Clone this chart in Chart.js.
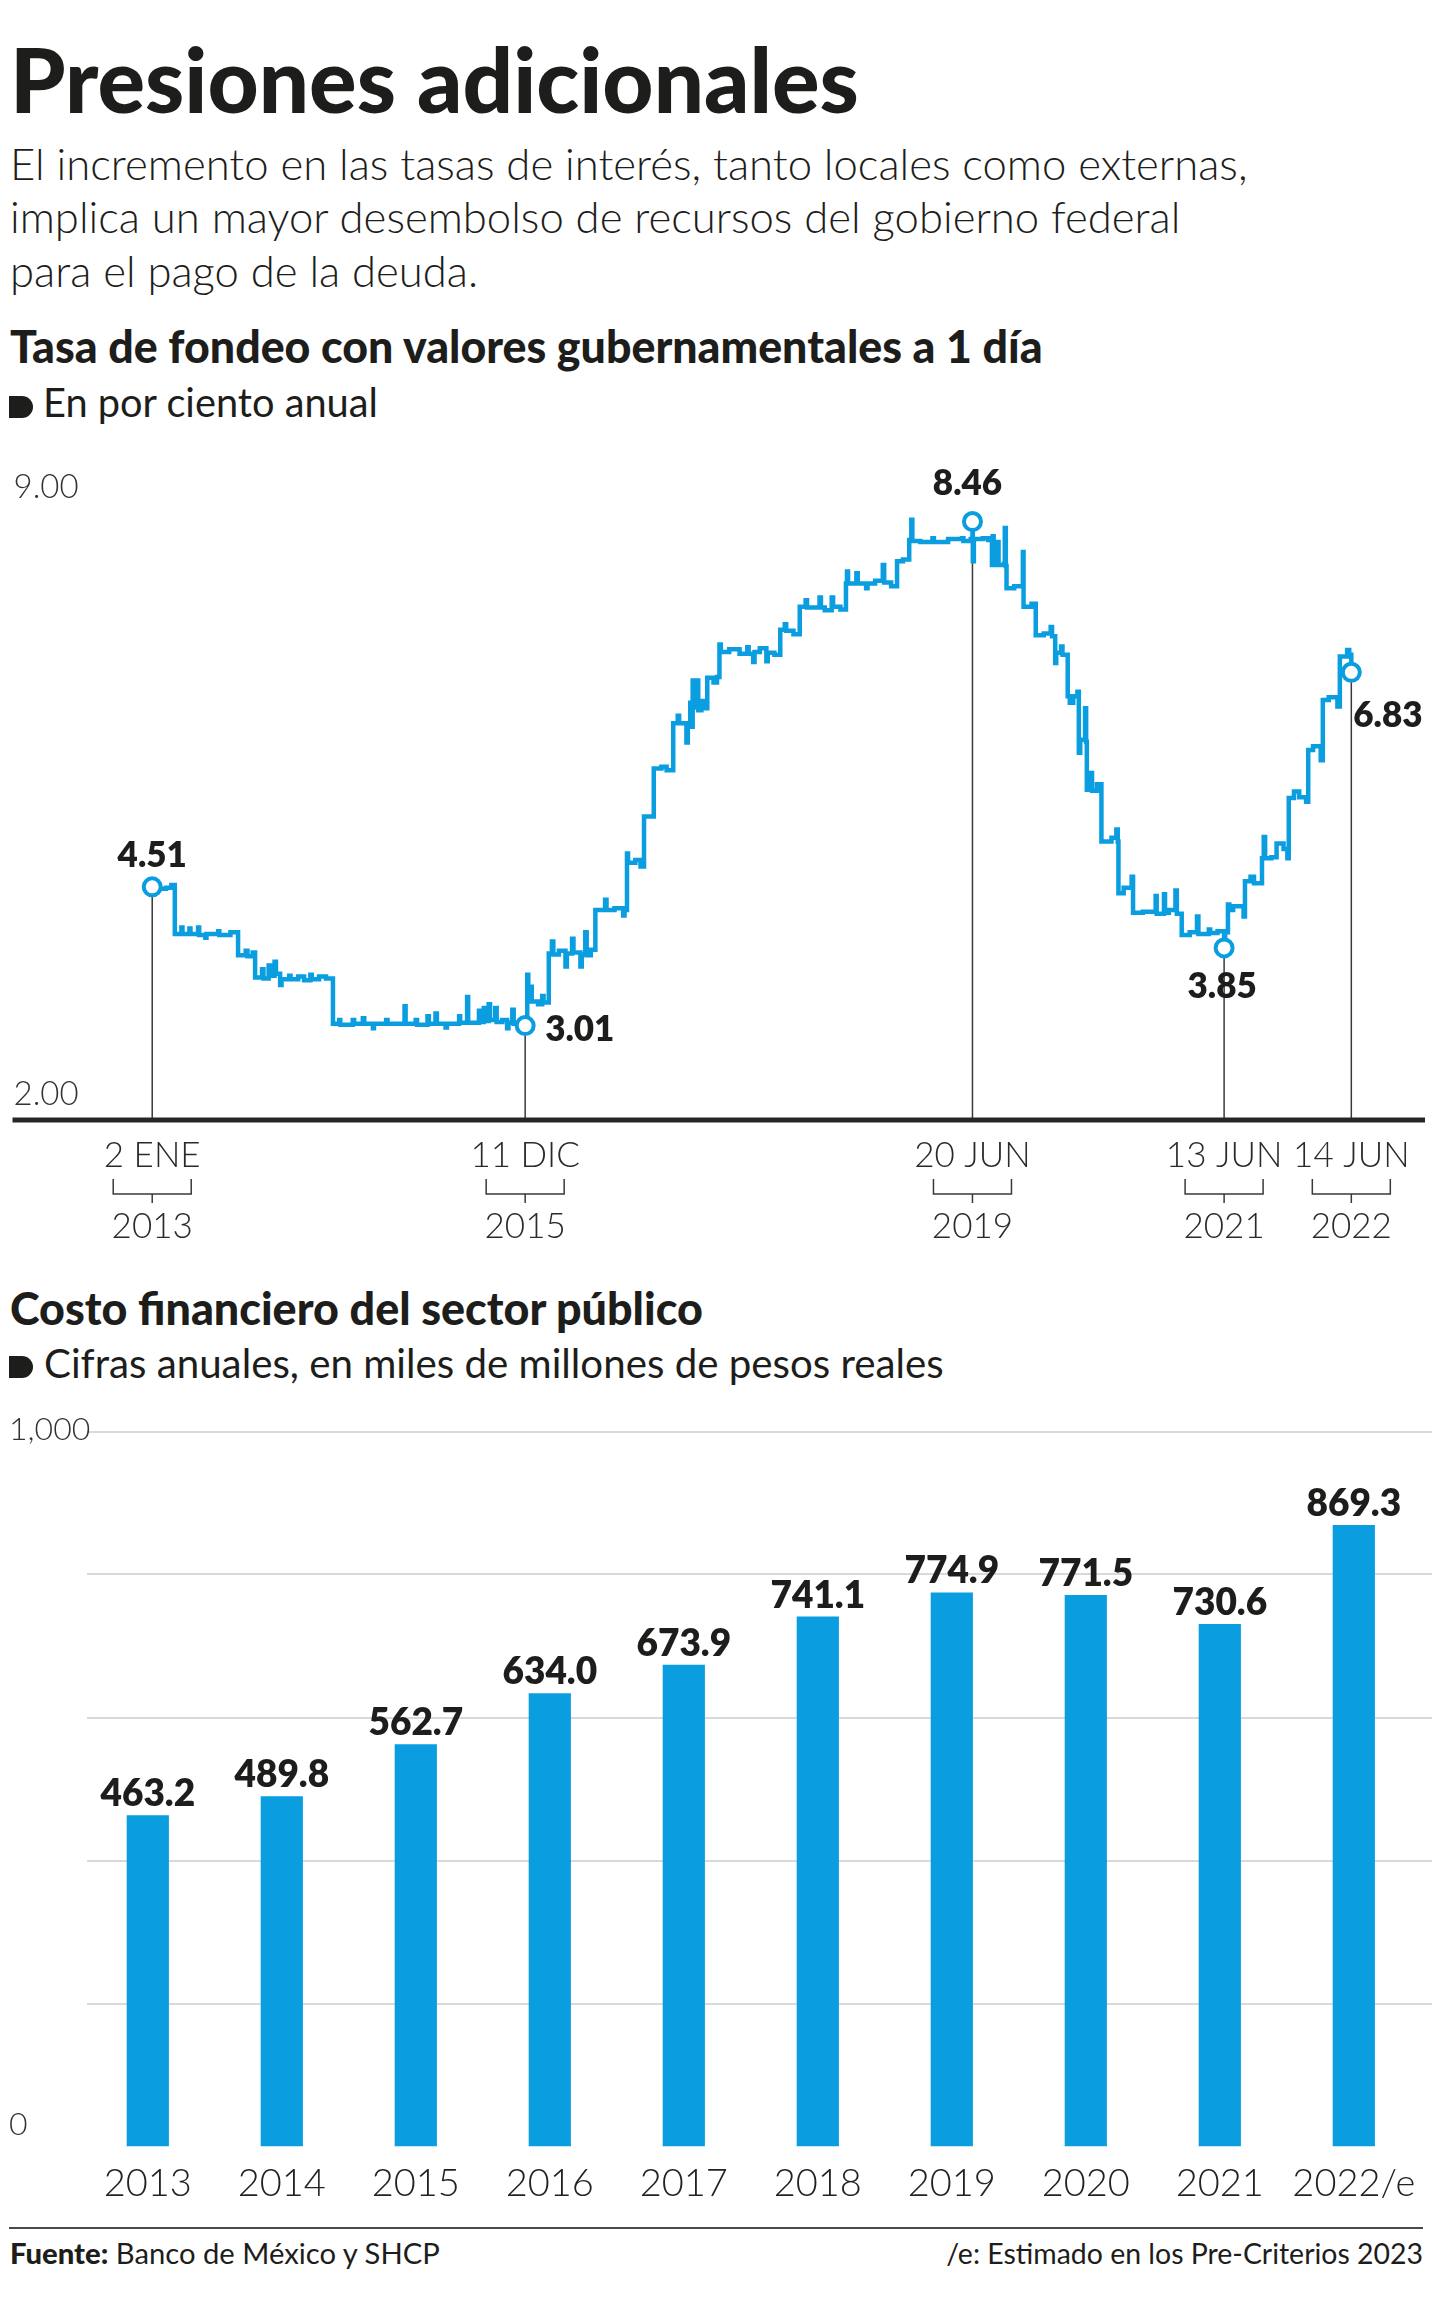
<!DOCTYPE html>
<html lang="es">
<head>
<meta charset="utf-8">
<title>Presiones adicionales</title>
<script src="https://cdn.jsdelivr.net/npm/chart.js@4.4.1/dist/chart.umd.min.js"></script>
<style>
  html, body { margin: 0; padding: 0; background: #fff; }
  #page { position: relative; width: 1440px; height: 2301px; overflow: hidden; font-family: Lato, 'Open Sans', sans-serif; color: #1d1d1b; }
  .t { position: absolute; white-space: nowrap; line-height: 1.2; }
  .bl { display: inline-block; width: 0; height: 0; vertical-align: baseline; }
  .bullet { position: absolute; background: #1d1d1b; border-radius: 0 11px 11px 0; }
  .rule { position: absolute; height: 2px; background: #4a4a4a; }
  canvas { position: absolute; left: 0; }
</style>
</head>
<body>
<div id="page">
  <div class="t" data-x="10" data-y="113" data-w="849" style="font-size:88px;font-weight:900">Presiones adicionales</div>
  <div class="t" id="sub1" data-x="10" data-y="180" data-w="1238" style="font-size:36px;font-weight:300">El incremento en las tasas de interés, tanto locales como externas,</div>
  <div class="t" data-x="10" data-y="233" data-like="sub1" style="font-size:36px;font-weight:300">implica un mayor desembolso de recursos del gobierno federal</div>
  <div class="t" data-x="10" data-y="287" data-like="sub1" style="font-size:36px;font-weight:300">para el pago de la deuda.</div>

  <div class="t" data-x="10" data-y="363" data-w="1033" style="font-size:37px;font-weight:900">Tasa de fondeo con valores gubernamentales a 1 día</div>
  <div class="bullet" style="left:9px;top:396px;width:24px;height:22px"></div>
  <div class="t" data-x="43" data-y="417" data-w="335" style="font-size:33px;font-weight:400">En por ciento anual</div>

  <canvas id="lineChart" width="1440" height="820" style="top:440px;width:1440px;height:820px"></canvas>

  <div class="t" data-x="10" data-y="1325" data-w="693" style="font-size:37px;font-weight:900">Costo financiero del sector público</div>
  <div class="bullet" style="left:9px;top:1356px;width:24px;height:22px"></div>
  <div class="t" data-x="44" data-y="1378" data-w="900" style="font-size:33px;font-weight:400">Cifras anuales, en miles de millones de pesos reales</div>

  <canvas id="barChart" width="1440" height="820" style="top:1400px;width:1440px;height:820px"></canvas>

  <div class="rule" style="left:9px;top:2227px;width:1414px"></div>
  <div class="t" data-x="10" data-y="2264" data-w="430" style="font-size:28px;font-weight:400"><b style="font-weight:900">Fuente:</b> Banco de México y SHCP</div>
  <div class="t" data-r="1423" data-y="2264" data-w="477" style="font-size:28px;font-weight:400">/e: Estimado en los Pre-Criterios 2023</div>
</div>

<script>
// Tasa de fondeo gubernamental (date, % anual)
const rateDates = [
  '2013-01-02','2013-01-22','2013-02-11','2013-02-26','2013-03-08','2013-03-27','2013-03-30','2013-04-19','2013-04-22','2013-05-14',
  '2013-05-17','2013-06-04','2013-06-07','2013-07-11','2013-07-14','2013-08-15','2013-09-06','2013-09-28','2013-10-03','2013-10-18',
  '2013-10-25','2013-11-14','2013-11-18','2013-12-03','2013-12-07','2013-12-20','2013-12-24','2014-01-05','2014-01-09','2014-01-31',
  '2014-02-04','2014-02-26','2014-03-15','2014-04-02','2014-04-06','2014-04-27','2014-05-17','2014-06-06','2014-06-24','2014-06-27',
  '2014-08-02','2014-08-06','2014-08-31','2014-09-04','2014-09-29','2014-10-02','2014-11-06','2014-11-10','2014-12-29','2015-01-01',
  '2015-01-30','2015-02-03','2015-03-05','2015-03-09','2015-03-28','2015-04-01','2015-04-26','2015-04-30','2015-06-04','2015-06-07',
  '2015-06-27','2015-06-30','2015-07-31','2015-08-04','2015-08-14','2015-08-18','2015-08-28','2015-09-01','2015-09-16','2015-09-20',
  '2015-10-06','2015-10-20','2015-10-24','2015-11-04','2015-11-08','2015-11-28','2015-12-11','2015-12-17','2015-12-20','2015-12-26',
  '2015-12-30','2016-01-17','2016-01-29','2016-02-02','2016-02-17','2016-02-26','2016-03-01','2016-03-17','2016-04-05','2016-04-09',
  '2016-04-24','2016-04-28','2016-05-18','2016-05-22','2016-06-01','2016-06-05','2016-06-17','2016-06-30','2016-07-28','2016-08-01',
  '2016-08-24','2016-09-18','2016-09-22','2016-09-29','2016-10-02','2016-10-23','2016-11-07','2016-11-17','2016-12-15','2017-01-06',
  '2017-01-21','2017-02-09','2017-02-22','2017-02-26','2017-03-19','2017-03-23','2017-03-30','2017-04-03','2017-04-06','2017-04-11',
  '2017-04-17','2017-04-22','2017-05-01','2017-05-11','2017-05-18','2017-06-05','2017-06-15','2017-06-22','2017-06-26','2017-07-20',
  '2017-08-19','2017-09-10','2017-09-14','2017-09-27','2017-10-01','2017-10-16','2017-11-04','2017-11-08','2017-11-27','2017-12-14',
  '2017-12-27','2017-12-31','2018-01-21','2018-02-08','2018-02-25','2018-03-01','2018-04-06','2018-04-10','2018-04-21','2018-05-11',
  '2018-05-15','2018-06-05','2018-06-21','2018-06-24','2018-06-27','2018-07-21','2018-07-25','2018-08-18','2018-08-22','2018-09-13',
  '2018-10-05','2018-10-09','2018-10-29','2018-11-15','2018-12-02','2018-12-20','2018-12-26','2018-12-29','2019-01-21','2019-02-25',
  '2019-03-01','2019-04-11','2019-05-21','2019-05-25','2019-06-15','2019-06-20','2019-06-21','2019-06-24','2019-07-20','2019-08-04',
  '2019-08-15','2019-08-17','2019-08-20','2019-08-31','2019-09-03','2019-09-18','2019-09-21','2019-09-24','2019-09-26','2019-10-18',
  '2019-11-12','2019-11-14','2019-12-07','2019-12-19','2020-01-11','2020-01-31','2020-02-04','2020-02-13','2020-02-16','2020-03-01',
  '2020-03-05','2020-03-20','2020-03-26','2020-04-05','2020-04-17','2020-04-21','2020-04-25','2020-05-09','2020-05-12','2020-05-14',
  '2020-05-25','2020-05-29','2020-06-12','2020-06-25','2020-07-24','2020-08-07','2020-08-11','2020-08-13','2020-08-28','2020-09-20',
  '2020-09-24','2020-10-22','2020-11-28','2020-12-01','2020-12-22','2020-12-25','2021-01-05','2021-01-24','2021-01-28','2021-02-11',
  '2021-03-06','2021-03-27','2021-03-31','2021-04-30','2021-05-04','2021-05-25','2021-06-13','2021-06-16','2021-06-24','2021-06-28',
  '2021-07-09','2021-08-08','2021-08-12','2021-08-28','2021-09-07','2021-09-30','2021-10-05','2021-10-09','2021-10-27','2021-11-11',
  '2021-12-01','2021-12-12','2021-12-16','2021-12-31','2022-01-15','2022-02-04','2022-02-10','2022-02-24','2022-03-18','2022-03-24',
  '2022-04-10','2022-05-05','2022-05-12','2022-06-02','2022-06-08','2022-06-14'
];
const rateValues = [
  4.51, 4.49, 4.50, 4.53, 4.00, 4.07, 4.00, 4.06, 4.00, 4.07,
  3.99, 3.96, 4.00, 4.03, 3.99, 4.02, 3.77, 3.82, 3.76, 3.80,
  3.53, 3.62, 3.52, 3.66, 3.55, 3.70, 3.57, 3.45, 3.51, 3.55,
  3.51, 3.54, 3.50, 3.56, 3.51, 3.54, 3.52, 3.03, 3.07, 3.02,
  3.07, 3.03, 3.09, 3.03, 2.98, 3.03, 3.07, 3.03, 3.22, 3.03,
  3.07, 3.02, 3.11, 3.03, 3.14, 3.03, 2.99, 3.03, 3.11, 3.04,
  3.32, 3.04, 3.17, 3.05, 3.20, 3.06, 3.24, 3.07, 3.20, 3.05,
  3.07, 2.98, 3.04, 3.18, 3.03, 3.05, 3.01, 3.56, 3.30, 3.43,
  3.27, 3.24, 3.33, 3.26, 3.79, 3.92, 3.78, 3.82, 3.65, 3.79,
  3.95, 3.80, 3.65, 3.78, 4.02, 3.77, 3.83, 4.26, 4.37, 4.26,
  4.28, 4.20, 4.26, 4.87, 4.77, 4.80, 4.73, 5.27, 5.79, 5.81,
  5.77, 6.28, 6.36, 6.28, 6.07, 6.27, 6.50, 6.24, 6.74, 6.45,
  6.74, 6.42, 6.52, 6.44, 6.77, 6.72, 6.78, 7.13, 7.05, 7.08,
  7.03, 7.10, 7.03, 6.94, 7.05, 7.09, 6.95, 7.04, 7.02, 7.29,
  7.35, 7.28, 7.24, 7.54, 7.61, 7.53, 7.64, 7.53, 7.50, 7.64,
  7.54, 7.51, 7.79, 7.92, 7.79, 7.90, 7.79, 7.74, 7.79, 7.82,
  7.99, 7.80, 7.76, 8.03, 8.05, 8.26, 8.48, 8.25, 8.24, 8.28,
  8.24, 8.27, 8.28, 8.25, 8.27, 8.46, 8.03, 8.27, 8.28, 8.26,
  7.99, 8.30, 7.99, 8.24, 7.99, 8.00, 8.39, 7.98, 7.74, 7.76,
  8.13, 7.54, 7.57, 7.23, 7.25, 7.32, 7.22, 6.93, 7.04, 7.11,
  7.02, 6.57, 6.50, 6.57, 6.62, 5.96, 6.10, 6.44, 6.08, 5.56,
  5.74, 5.55, 5.62, 5.00, 5.04, 5.13, 5.00, 4.44, 4.50, 4.62,
  4.23, 4.24, 4.41, 4.22, 4.43, 4.23, 4.26, 4.47, 4.22, 3.99,
  4.02, 4.19, 4.00, 4.05, 4.01, 4.03, 3.85, 4.02, 4.32, 4.26,
  4.30, 4.19, 4.57, 4.62, 4.55, 4.82, 5.05, 4.82, 4.83, 4.98,
  4.92, 4.82, 5.47, 5.54, 5.48, 5.43, 5.99, 6.03, 5.88, 6.53,
  6.56, 6.46, 7.00, 7.07, 7.02, 6.83
];
// highlighted points and their axis labels
const markDates = ['2013-01-02', '2015-12-11', '2019-06-20', '2021-06-13', '2022-06-14'];
const markValues = [4.51, 3.01, 8.46, 3.85, 6.83];
const markDayLabels = ['2 ENE', '11 DIC', '20 JUN', '13 JUN', '14 JUN'];
const markYearLabels = ['2013', '2015', '2019', '2021', '2022'];
const rateTicks = [9, 2];

// Costo financiero del sector público (miles de millones de pesos reales)
const costYears = ['2013', '2014', '2015', '2016', '2017', '2018', '2019', '2020', '2021', '2022/e'];
const costValues = [463.2, 489.8, 562.7, 634.0, 673.9, 741.1, 774.9, 771.5, 730.6, 869.3];
const costTicks = [1000, 0];
const costGrid = [200, 400, 600, 800, 1000];

const BLUE = '#0a9ddf';
const INK = '#1d1d1b';
const FONT = 'Lato, "Open Sans", sans-serif';

// day count from the first observation, for the linear x scale
const T0 = Date.UTC(2013, 0, 2);
function dayOf(s) {
  const p = s.split('-').map(Number);
  return (Date.UTC(p[0], p[1] - 1, p[2]) - T0) / 864e5;
}

// label placement around each highlighted point
const markPlace = [
  { align: 'center', dx: 0, dy: -20 },
  { align: 'left', dx: 20, dy: 15 },
  { align: 'center', dx: -5, dy: -27 },
  { align: 'center', dx: -2, dy: 50 },
  { align: 'left', dx: 2, dy: 55 }
];

// put every html text line on its baseline, scaled to the width it has in the picture
function placeTexts() {
  const page = document.getElementById('page').getBoundingClientRect();
  document.querySelectorAll('.t').forEach(el => {
    const mark = document.createElement('i');
    mark.className = 'bl';
    el.appendChild(mark);
    el.style.left = '0px';
    el.style.top = '0px';
    if (el.dataset.like) {
      el.style.fontSize = document.getElementById(el.dataset.like).style.fontSize;
    } else if (el.dataset.w) {
      const fs = parseFloat(el.style.fontSize);
      el.style.fontSize = (fs * +el.dataset.w / el.getBoundingClientRect().width) + 'px';
    }
    const r = el.getBoundingClientRect();
    const left = el.dataset.r ? +el.dataset.r - r.width : +el.dataset.x;
    const base = mark.getBoundingClientRect().top - page.top;
    el.style.left = left + 'px';
    el.style.top = (+el.dataset.y - base) + 'px';
  });
}
placeTexts();

Chart.defaults.font.family = FONT;
Chart.defaults.color = INK;

const lineDecor = {
  id: 'lineDecor',
  beforeDatasetsDraw(chart) {
    const { ctx, chartArea: a } = chart;
    ctx.save();
    ctx.strokeStyle = '#3a3a3a';
    ctx.lineWidth = 1.5;
    chart.getDatasetMeta(1).data.forEach(p => {
      ctx.beginPath();
      ctx.moveTo(p.x, p.y);
      ctx.lineTo(p.x, a.bottom);
      ctx.stroke();
    });
    ctx.restore();
  },
  afterDatasetsDraw(chart) {
    const { ctx, chartArea: a, scales: { x, y } } = chart;
    const b = a.bottom;
    ctx.save();
    // axis line
    ctx.strokeStyle = '#262626';
    ctx.lineWidth = 5;
    ctx.beginPath();
    ctx.moveTo(a.left, b + 1);
    ctx.lineTo(a.right, b + 1);
    ctx.stroke();

    // y labels
    ctx.fillStyle = '#333';
    ctx.font = '300 33px ' + FONT;
    ctx.textAlign = 'left';
    ctx.textBaseline = 'alphabetic';
    rateTicks.forEach(v => {
      const py = y.getPixelForValue(v);
      ctx.fillText(v.toFixed(2), a.left + 1, v === y.max ? py + 26 : py - 14);
    });

    // value labels on highlighted points
    ctx.fillStyle = INK;
    ctx.font = '800 35px ' + FONT;
    chart.getDatasetMeta(1).data.forEach((p, i) => {
      const pl = markPlace[i];
      ctx.textAlign = pl.align;
      ctx.fillText(markValues[i].toFixed(2), p.x + pl.dx, p.y + pl.dy);
    });

    // date labels with year brackets
    ctx.strokeStyle = '#3a3a3a';
    ctx.lineWidth = 1.5;
    ctx.textAlign = 'center';
    markDates.forEach((d, i) => {
      const cx = x.getPixelForValue(dayOf(d));
      ctx.font = '300 35px ' + FONT;
      ctx.fillStyle = '#2a2a2a';
      ctx.fillText(markDayLabels[i], cx, b + 48);
      ctx.beginPath();
      ctx.moveTo(cx - 39, b + 60);
      ctx.lineTo(cx - 39, b + 75);
      ctx.lineTo(cx + 39, b + 75);
      ctx.lineTo(cx + 39, b + 60);
      ctx.moveTo(cx, b + 75);
      ctx.lineTo(cx, b + 84);
      ctx.stroke();
      ctx.fillText(markYearLabels[i], cx, b + 119);
    });
    ctx.restore();
  }
};

new Chart(document.getElementById('lineChart'), {
  type: 'line',
  data: {
    datasets: [{
      data: rateDates.map((d, i) => ({ x: dayOf(d), y: rateValues[i] })),
      borderColor: BLUE,
      borderWidth: 4.5,
      pointRadius: 0,
      stepped: true,
      fill: false,
      order: 2
    }, {
      data: markDates.map((d, i) => ({ x: dayOf(d), y: markValues[i] })),
      showLine: false,
      pointRadius: 8.5,
      pointBackgroundColor: '#fff',
      pointBorderColor: BLUE,
      pointBorderWidth: 4,
      clip: false,
      order: 1
    }]
  },
  options: {
    responsive: false,
    animation: false,
    events: [],
    layout: { padding: { left: 9, right: 15, top: 31.6, bottom: 141 } },
    plugins: { legend: { display: false }, tooltip: { enabled: false } },
    scales: {
      x: { type: 'linear', min: -402, max: 3662, display: false },
      y: { min: 2, max: 9, display: false }
    }
  },
  plugins: [lineDecor]
});

const barDecor = {
  id: 'barDecor',
  beforeDatasetsDraw(chart) {
    const { ctx, scales: { y } } = chart;
    ctx.save();
    ctx.strokeStyle = '#d9d9d9';
    ctx.lineWidth = 2;
    costGrid.forEach(v => {
      const py = Math.round(y.getPixelForValue(v));
      ctx.beginPath();
      ctx.moveTo(87, py);
      ctx.lineTo(1432, py);
      ctx.stroke();
    });
    ctx.restore();
  },
  afterDatasetsDraw(chart) {
    const { ctx, scales: { y } } = chart;
    ctx.save();
    ctx.fillStyle = INK;
    ctx.font = '800 37px ' + FONT;
    ctx.textAlign = 'center';
    ctx.textBaseline = 'alphabetic';
    chart.getDatasetMeta(0).data.forEach((bar, i) => {
      ctx.fillText(costValues[i].toFixed(1), bar.x, bar.y - 9);
    });
    ctx.fillStyle = '#333';
    ctx.font = '300 32px ' + FONT;
    ctx.textAlign = 'left';
    costTicks.forEach(v => {
      const py = y.getPixelForValue(v);
      ctx.fillText(v.toLocaleString('en-US'), 9, v === y.max ? py + 8 : py - 12);
    });
    ctx.restore();
  }
};

new Chart(document.getElementById('barChart'), {
  type: 'bar',
  data: {
    labels: costYears,
    datasets: [{
      data: costValues,
      backgroundColor: BLUE,
      barPercentage: 0.315,
      categoryPercentage: 1
    }]
  },
  options: {
    responsive: false,
    animation: false,
    events: [],
    layout: { padding: { left: 80.8, right: 19.2, top: 31.5, bottom: 13.5 } },
    plugins: { legend: { display: false }, tooltip: { enabled: false } },
    scales: {
      x: {
        grid: { display: false, drawTicks: false },
        border: { display: false },
        ticks: { color: '#222', font: { size: 38, weight: 300 }, padding: 14, maxRotation: 0, autoSkip: false },
        afterFit(scale) { scale.height = 60; }
      },
      y: { min: 0, max: 1000, display: false }
    }
  },
  plugins: [barDecor]
});
</script>
</body>
</html>
